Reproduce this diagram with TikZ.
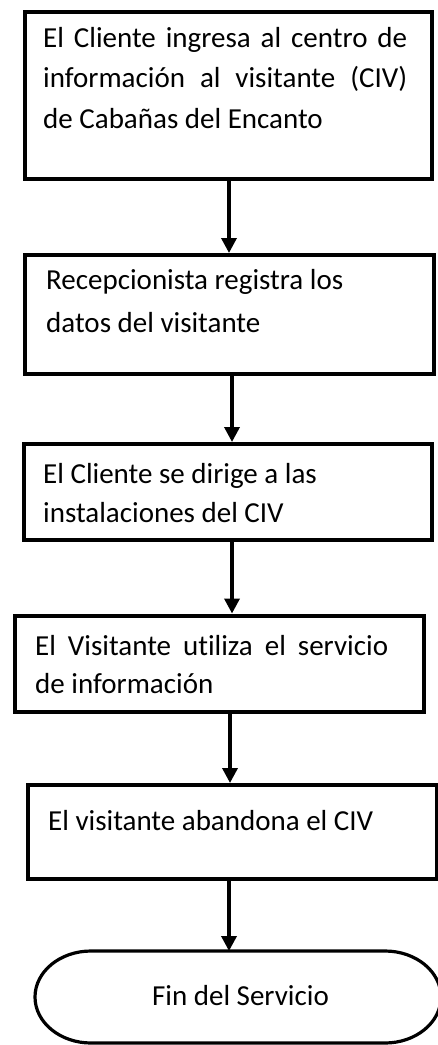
\documentclass[tikz,border=0pt]{standalone}
\usepackage{fontspec}
\setmainfont{Carlito}[Ligatures=NoCommon]
\usetikzlibrary{arrows.meta}
\begin{document}
\begin{tikzpicture}[x=1pt,y=-1pt,
  box/.style={draw, line width=4pt, rectangle, inner sep=0pt, anchor=north west},
  txt/.style={inner sep=0pt, anchor=base west, align=left},
  jtxt/.style={inner sep=0pt, anchor=base west, align=justify},
  arr/.style={line width=3.5pt, -{Triangle[width=15pt,length=15pt]}},
  term/.style={line width=3.2pt}
]
\useasboundingbox (0,0) rectangle (438,1045);

% boxes
\node[box, minimum width=407.5pt, minimum height=167pt] (b1) at (22.5,10) {};
\node[box, minimum width=409pt, minimum height=119pt] (b2) at (23,253) {};
\node[box, minimum width=408pt, minimum height=95.5pt] (b3) at (22,442) {};
\node[box, minimum width=409pt, minimum height=96.5pt] (b4) at (13,613.5) {};
\node[box, minimum width=409pt, minimum height=94pt] (b5) at (26,783) {};

% texts
\node[jtxt, text width=364pt, font=\fontsize{29}{40.5}\selectfont] (t1) at (43,47)
  {\tolerance=10000 El Cliente ingresa al centro de\linebreak información al visitante (CIV)\linebreak de Cabañas del Encanto};
\node[txt, font=\fontsize{29}{42.5}\selectfont] (t2) at (46,332)
  {Recepcionista registra los\\datos del visitante};
\node[txt, font=\fontsize{29}{39}\selectfont] (t3) at (43,522)
  {El Cliente se dirige a las\\instalaciones del CIV};
\node[jtxt, text width=353pt, font=\fontsize{29}{38.5}\selectfont] (t4) at (35,655)
  {\tolerance=10000 El Visitante utiliza el servicio\linebreak de información};
\node[txt, font=\fontsize{29}{39}\selectfont] (t5) at (48,830)
  {El visitante abandona el CIV};

% terminator
\node[inner sep=0pt, anchor=base, font=\fontsize{29}{35}\selectfont] (fin) at (240.5,1005) {Fin del Servicio};
\draw[term] (91,951) -- (385,951)
  arc[start angle=90, end angle=-90, x radius=56pt, y radius=46pt]
  -- (91,1043)
  arc[start angle=270, end angle=90, x radius=56pt, y radius=46pt] -- cycle;
\coordinate (ftop) at (238,951);

% arrow x positions
\coordinate (ax1) at (229,0);
\coordinate (ax2) at (232,0);
\coordinate (ax3) at (232,0);
\coordinate (ax4) at (230,0);
\coordinate (ax5) at (229,0);

\draw[arr] (b1.south -| ax1) -- (b2.north -| ax1);
\draw[arr] (b2.south -| ax2) -- (b3.north -| ax2);
\draw[arr] (b3.south -| ax3) -- (b4.north -| ax3);
\draw[arr] (b4.south -| ax4) -- (b5.north -| ax4);
\draw[arr] (b5.south -| ax5) -- (ftop -| ax5);
\end{tikzpicture}
\end{document}
